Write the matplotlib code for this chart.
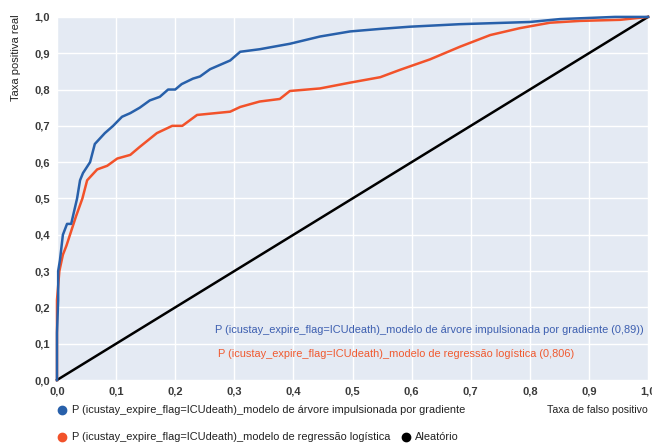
import matplotlib
matplotlib.use("Agg")
import matplotlib.pyplot as plt
from matplotlib.lines import Line2D

plt.rcParams['font.family'] = ['Liberation Sans', 'DejaVu Sans']

# Gradient boosting ROC (FPR, TPR)
gb_fpr = [0, 0, 0.002, 0.002, 0.005, 0.010, 0.017, 0.024, 0.034, 0.039, 0.044, 0.056,
          0.064, 0.081, 0.095, 0.110, 0.124, 0.140, 0.157, 0.174, 0.188, 0.200, 0.211,
          0.230, 0.242, 0.259, 0.293, 0.310, 0.343, 0.394, 0.445, 0.496, 0.547, 0.597,
          0.682, 0.800, 0.851, 0.944, 1.0]
gb_tpr = [0, 0.13, 0.22, 0.30, 0.33, 0.40, 0.43, 0.43, 0.50, 0.55, 0.57, 0.60,
          0.65, 0.68, 0.70, 0.725, 0.735, 0.75, 0.77, 0.78, 0.80, 0.80, 0.815,
          0.83, 0.836, 0.856, 0.88, 0.904, 0.911, 0.926, 0.946, 0.96, 0.967, 0.973,
          0.98, 0.986, 0.994, 1.0, 1.0]

# Logistic regression ROC (FPR, TPR)
lr_fpr = [0, 0, 0.004, 0.010, 0.016, 0.022, 0.032, 0.043, 0.051, 0.068, 0.085, 0.102,
          0.124, 0.140, 0.169, 0.195, 0.212, 0.237, 0.293, 0.310, 0.343, 0.377, 0.394,
          0.445, 0.496, 0.547, 0.580, 0.631, 0.682, 0.733, 0.783, 0.834, 0.885, 0.953, 1.0]
lr_tpr = [0, 0.22, 0.30, 0.345, 0.37, 0.40, 0.45, 0.50, 0.55, 0.58, 0.59, 0.61,
          0.62, 0.642, 0.68, 0.70, 0.70, 0.73, 0.739, 0.752, 0.767, 0.774, 0.796,
          0.803, 0.819, 0.834, 0.854, 0.883, 0.918, 0.95, 0.969, 0.984, 0.989, 0.992, 1.0]

rand_x = [0, 1]
rand_y = [0, 1]

ticks = [0, 0.1, 0.2, 0.3, 0.4, 0.5, 0.6, 0.7, 0.8, 0.9, 1.0]
tick_labels = ['0,0', '0,1', '0,2', '0,3', '0,4', '0,5', '0,6', '0,7', '0,8', '0,9', '1,0']

gb_label = 'P (icustay_expire_flag=ICUdeath)_modelo de árvore impulsionada por gradiente'
lr_label = 'P (icustay_expire_flag=ICUdeath)_modelo de regressão logística'
rand_label = 'Aleatório'
gb_auc = '(0,89))'
lr_auc = '(0,806)'

blue = '#2860aa'
red = '#f2522a'

fig = plt.figure(figsize=(6.52, 4.45), dpi=100)
ax = fig.add_axes([0.0874, 0.146, 0.9065, 0.816])
ax.set_facecolor('#e4eaf3')
for s in ax.spines.values():
    s.set_visible(False)
ax.grid(True, color='white', linewidth=1.0)
ax.set_axisbelow(True)

ax.plot(rand_x, rand_y, color='black', linewidth=1.8, clip_on=False)
ax.plot(lr_fpr, lr_tpr, color=red, linewidth=1.8, clip_on=False)
ax.plot(gb_fpr, gb_tpr, color=blue, linewidth=1.8, clip_on=False)

ax.set_xlim(0, 1)
ax.set_ylim(0, 1)
ax.set_xticks(ticks)
ax.set_xticklabels(tick_labels)
ax.set_yticks(ticks)
ax.set_yticklabels(tick_labels)
ax.tick_params(length=0, labelsize=8, labelcolor='#3a3a3a', pad=5)
for lab in ax.get_xticklabels() + ax.get_yticklabels():
    lab.set_fontweight('bold')

ax.text(0.992, 0.137, gb_label + ' ' + gb_auc, color='#3d5fb0', fontsize=7.95,
        ha='right', va='center', transform=ax.transAxes)
ax.text(0.272, 0.073, lr_label + ' ' + lr_auc, color='#f05a30', fontsize=7.95,
        ha='left', va='center', transform=ax.transAxes)

fig.text(0.994, 0.079, 'Taxa de falso positivo', fontsize=7.6, ha='right', va='center',
         color='#222222')
fig.text(0.025, 0.968, 'Taxa positiva real', fontsize=8, ha='center', va='top',
         rotation=90, color='#222222')

# legend below
fig.lines.append(Line2D([0.0951], [0.0787], marker='o', markersize=6, color=blue,
                        transform=fig.transFigure, linestyle='none'))
fig.text(0.110, 0.0787, gb_label, fontsize=7.95, ha='left', va='center', color='#222222')
fig.lines.append(Line2D([0.0951], [0.018], marker='o', markersize=6, color=red,
                        transform=fig.transFigure, linestyle='none'))
fig.text(0.110, 0.018, lr_label, fontsize=7.95, ha='left', va='center', color='#222222')
fig.lines.append(Line2D([0.622], [0.018], marker='o', markersize=6, color='black',
                        transform=fig.transFigure, linestyle='none'))
fig.text(0.637, 0.018, rand_label, fontsize=7.95, ha='left', va='center', color='#222222')

fig.savefig('out.png', dpi=100)
